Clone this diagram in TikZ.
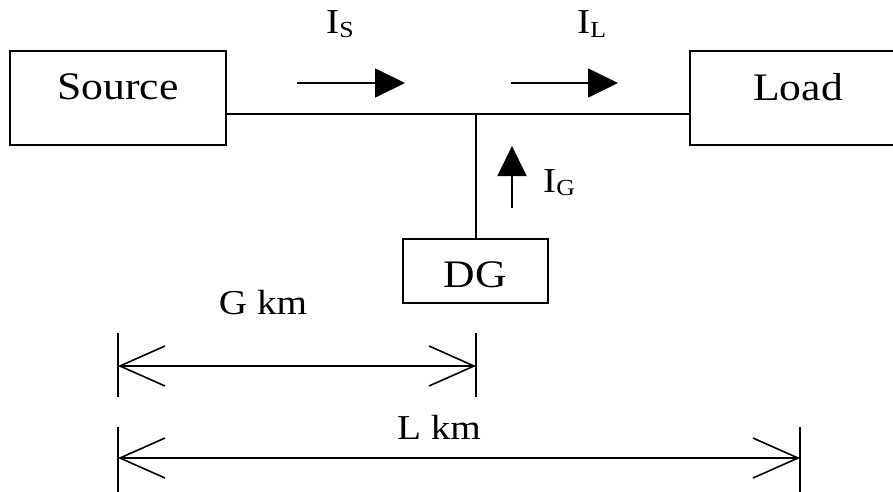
\documentclass[tikz,border=0pt]{standalone}
\usepackage{fontspec}
\usepackage{graphicx}
\setmainfont{Liberation Serif}
\usetikzlibrary{arrows.meta}
\newcommand{\hs}[1]{\scalebox{1.12}[1]{#1}}
\newcommand{\curr}[2]{\hs{I\raisebox{-#2}{\fontsize{23}{23}\selectfont #1}}}
\begin{document}
\begin{tikzpicture}[x=1pt,y=-1pt,
  box/.style={draw, line width=2pt, rectangle, inner sep=0pt,
    font=\fontsize{39}{40}\selectfont},
  wire/.style={line width=1.8pt},
  flow/.style={line width=1.8pt, -{Triangle[length=30pt,width=29pt]}},
  dimline/.style={line width=1.8pt,
    {Straight Barb[length=45pt,width=40pt,line width=1.6pt]}-{Straight Barb[length=45pt,width=40pt,line width=1.6pt]}},
  tickline/.style={line width=1.5pt},
  lbl/.style={inner sep=0pt, font=\fontsize{35}{36}\selectfont},
]
\useasboundingbox (0,0) rectangle (893,491);
\clip (0,0) rectangle (893,491);

% boxes
\node[box, minimum width=216pt, minimum height=94pt, text height=14pt, text depth=12pt]
  (src) at (118,98) {\hs{Source}};
\node[box, minimum width=216pt, minimum height=94pt, text height=16pt, text depth=12pt]
  (load) at (798,98) {\hs{Load}};
\node[box, minimum width=145pt, minimum height=64pt, text height=32pt, text depth=0pt]
  (dg) at (475.5,271) {\hs{DG}};

% wires
\coordinate (J) at (476,114);
\draw[wire] (src.east |- J) -- (J) -- (load.west |- J);
\draw[wire] (J) -- (J |- dg.north);

% current arrows
\coordinate (is1) at (297,83);
\coordinate (is2) at (405,83);
\coordinate (il1) at (511,83);
\coordinate (il2) at (618,83);
\coordinate (ig1) at (512,208);
\coordinate (ig2) at (512,146);
\draw[flow] (is1) -- (is2);
\draw[flow] (il1) -- (il2);
\draw[flow] (ig1) -- (ig2);
\node[lbl, anchor=base west] (lis) at (326,33) {\curr{S}{4pt}};
\node[lbl, anchor=base west] (lil) at (577,33) {\curr{L}{4pt}};
\node[lbl, anchor=base west] (lig) at (543,192) {\curr{G}{3pt}};

% dimensions
\coordinate (g1t) at (118,333); \coordinate (g1b) at (118,397);
\coordinate (g2t) at (476,333); \coordinate (g2b) at (476,397);
\coordinate (g1) at (118,366); \coordinate (g2) at (476,366);
\draw[tickline] (g1t) -- (g1b);
\draw[tickline] (g2t) -- (g2b);
\draw[dimline] (g1) -- (g2);
\node[lbl, anchor=base] (gkm) at (263,314) {\hs{G km}};

\coordinate (l1t) at (118,427); \coordinate (l1b) at (118,495);
\coordinate (l2t) at (800,427); \coordinate (l2b) at (800,495);
\coordinate (l1) at (118,458); \coordinate (l2) at (800,458);
\draw[tickline] (l1t) -- (l1b);
\draw[tickline] (l2t) -- (l2b);
\draw[dimline] (l1) -- (l2);
\node[lbl, anchor=base] (lkm) at (439,439) {\hs{L km}};
\end{tikzpicture}
\end{document}
